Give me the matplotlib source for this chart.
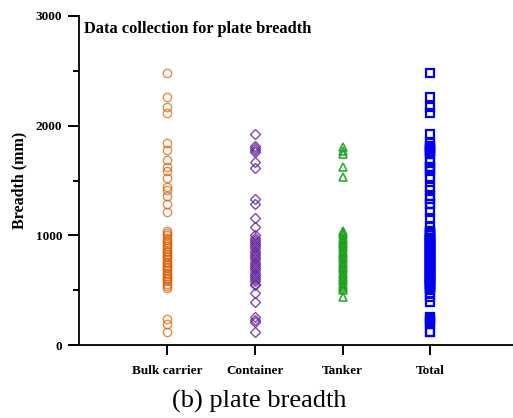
import numpy as np
import matplotlib
matplotlib.use("Agg")
import matplotlib.pyplot as plt
from matplotlib.ticker import MultipleLocator

# Plate breadth records (mm) per ship type
categories = ["Bulk carrier", "Container", "Tanker", "Total"]

bulk_carrier = [2480, 2260, 2170, 2120, 1840, 1780, 1690, 1620, 1590, 1520,
                1440, 1410, 1360, 1290, 1210,
                1040, 1020, 1000, 980, 960, 940, 920, 900, 880, 860, 850, 830,
                810, 800, 780, 760, 750, 730, 710, 700, 680, 660, 650, 630,
                610, 600, 580, 560, 540, 520,
                240, 190, 120]

container = [1924, 1818, 1795, 1780, 1764, 1667, 1612, 1333, 1288, 1160, 1076,
             1000, 980, 960, 940, 920, 900, 880, 860, 840, 820, 800, 780, 760,
             740, 720, 700, 680, 660, 640, 620, 600, 580, 560,
             545, 470, 394, 258, 230, 210, 121]

tanker = [1803, 1773, 1742, 1621, 1530,
          1040, 1020, 1000, 980, 960, 940, 920, 900, 880, 860, 840, 820, 800,
          780, 760, 740, 720, 700, 680, 660, 640, 620, 600, 580, 560, 540,
          520, 500, 440]

total = bulk_carrier + container + tanker

series = [bulk_carrier, container, tanker, total]
styles = [
    dict(marker="o", color="#D95B00", alpha=0.7, ms=6.0, mew=1.0),
    dict(marker="D", color="#6A2A9E", alpha=0.85, ms=4.6, mew=1.0),
    dict(marker="^", color="#1FA01F", alpha=0.9, ms=5.2, mew=1.2),
    dict(marker="s", color="#0000F0", alpha=1.0, ms=5.6, mew=1.6),
]

plt.rcParams["font.family"] = ["Liberation Serif", "DejaVu Serif"]

fig = plt.figure(figsize=(5.13, 4.18), dpi=100)
ax = fig.add_axes([79 / 513, 1 - 345 / 418, 1 - 79 / 513, (345 - 16) / 418])

for i, (vals, st) in enumerate(zip(series, styles)):
    ax.plot(np.full(len(vals), i + 1), vals, linestyle="none",
            marker=st["marker"], markersize=st["ms"], markerfacecolor="none",
            markeredgecolor=st["color"], markeredgewidth=st["mew"],
            alpha=st["alpha"], clip_on=False)

ax.set_xlim(0, 4.94)
ax.set_ylim(0, 3000)

for side in ("top", "right"):
    ax.spines[side].set_visible(False)
for side in ("left", "bottom"):
    ax.spines[side].set_linewidth(1.4)
    ax.spines[side].set_color("#111111")

ax.yaxis.set_major_locator(MultipleLocator(1000))
ax.yaxis.set_minor_locator(MultipleLocator(500))
ax.tick_params(axis="y", which="major", direction="out", length=8, width=1.4,
               pad=4, labelsize=9.5)
ax.tick_params(axis="y", which="minor", direction="out", length=4, width=1.4)
ax.set_xticks(range(1, 5))
ax.set_xticklabels(categories)
ax.tick_params(axis="x", which="major", direction="out", length=7.5, width=1.4,
               pad=7, labelsize=9.5)
for lbl in ax.get_xticklabels() + ax.get_yticklabels():
    lbl.set_fontweight("bold")

ax.set_ylabel("Breadth (mm)", fontsize=11.5, fontweight="bold", labelpad=6)
ax.text(0.012, 0.96, "Data collection for plate breadth", transform=ax.transAxes,
        fontsize=11.8, fontweight="bold", ha="left", va="center")

fig.text(259 / 513, 1 - 401 / 418, "(b) plate breadth", fontsize=19,
         ha="center", va="center")

fig.savefig("out.png", dpi=100)
